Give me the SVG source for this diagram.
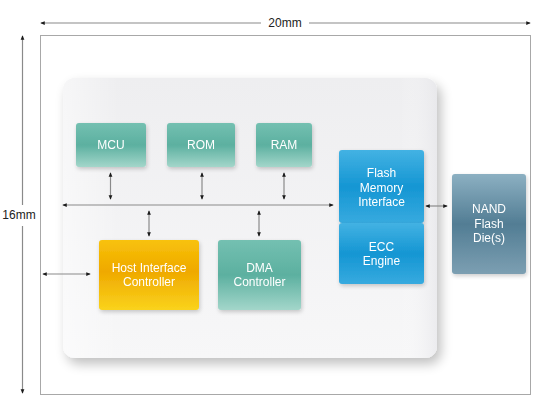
<svg xmlns="http://www.w3.org/2000/svg" width="549" height="411" viewBox="0 0 549 411">
<style>
text{font-family:"Liberation Sans",Arial,sans-serif;font-size:12px;fill:#fff;text-anchor:middle}
.dim{fill:#222;font-size:12px}
.ln{stroke:#8a8a8a;stroke-width:1.2;fill:none;marker-start:url(#ah);marker-end:url(#ah)}
.bx{filter:url(#bs)}
</style>
<defs>
<marker id="ah" viewBox="0 0 6 6" refX="5" refY="3" markerWidth="4.5" markerHeight="4.5" markerUnits="userSpaceOnUse" orient="auto-start-reverse"><path d="M0,0.5 L6,3 L0,5.5 z" fill="#1a1a1a"/></marker>
<linearGradient id="gPanel" x1="0" y1="0" x2="0" y2="1"><stop offset="0" stop-color="#eeeef0"/><stop offset="1" stop-color="#f7f7f8"/></linearGradient>
<linearGradient id="gPanelH" x1="0" y1="0" x2="1" y2="0"><stop offset="0" stop-color="#fff" stop-opacity="0.5"/><stop offset="0.15" stop-color="#fff" stop-opacity="0"/><stop offset="0.9" stop-color="#fff" stop-opacity="0"/><stop offset="1" stop-color="#e4e4e8" stop-opacity="0.6"/></linearGradient>
<linearGradient id="gTeal" x1="0" y1="0" x2="0" y2="1"><stop offset="0" stop-color="#74c0b1"/><stop offset="0.5" stop-color="#5cb0a0"/><stop offset="1" stop-color="#a3d6ca"/></linearGradient>
<linearGradient id="gYel" x1="0" y1="0" x2="0" y2="1"><stop offset="0" stop-color="#f8c20a"/><stop offset="0.45" stop-color="#efa900"/><stop offset="1" stop-color="#fad31c"/></linearGradient>
<linearGradient id="gBlue" x1="0" y1="0" x2="0" y2="1"><stop offset="0" stop-color="#43b2e3"/><stop offset="0.5" stop-color="#1596d3"/><stop offset="1" stop-color="#37aadf"/></linearGradient>
<linearGradient id="gNand" x1="0" y1="0" x2="0" y2="1"><stop offset="0" stop-color="#8cb0c2"/><stop offset="0.5" stop-color="#527d94"/><stop offset="1" stop-color="#7c9fb2"/></linearGradient>
<filter id="ps" x="-10%" y="-10%" width="125%" height="130%"><feGaussianBlur in="SourceAlpha" stdDeviation="6"/><feOffset dx="4" dy="6"/><feComponentTransfer><feFuncA type="linear" slope="0.25"/></feComponentTransfer><feMerge><feMergeNode/><feMergeNode in="SourceGraphic"/></feMerge></filter>
<filter id="bs" x="-20%" y="-20%" width="150%" height="150%"><feGaussianBlur in="SourceAlpha" stdDeviation="2"/><feOffset dx="1" dy="2"/><feComponentTransfer><feFuncA type="linear" slope="0.2"/></feComponentTransfer><feMerge><feMergeNode/><feMergeNode in="SourceGraphic"/></feMerge></filter>
</defs>
<rect width="549" height="411" fill="#fff"/>
<g id="frame">
<rect x="40.5" y="35.5" width="490" height="359" fill="none" stroke="#a8a8a8" stroke-width="1"/>
</g>
<g id="dimensions">
<line class="ln" x1="41" y1="23" x2="261" y2="23" style="marker-end:none"/>
<line class="ln" x1="309" y1="23" x2="530" y2="23" style="marker-start:none"/>
<text class="dim" x="285" y="27">20mm</text>
<line class="ln" x1="22.5" y1="36" x2="22.5" y2="205" style="marker-end:none"/>
<line class="ln" x1="22.5" y1="226" x2="22.5" y2="393" style="marker-start:none"/>
<text class="dim" x="19" y="219">16mm</text>
</g>
<g id="panel">
<rect x="63" y="78" width="374" height="280" rx="12" fill="url(#gPanel)" filter="url(#ps)"/>
<rect x="63" y="78" width="374" height="280" rx="12" fill="url(#gPanelH)"/>
</g>
<g id="connectors">
<line class="ln" x1="63" y1="205" x2="333" y2="205"/>
<line class="ln" x1="110.5" y1="173" x2="110.5" y2="199"/>
<line class="ln" x1="202" y1="173" x2="202" y2="199"/>
<line class="ln" x1="284" y1="173" x2="284" y2="199"/>
<line class="ln" x1="149" y1="211" x2="149" y2="236"/>
<line class="ln" x1="259" y1="211" x2="259" y2="236"/>
<line class="ln" x1="43" y1="274" x2="90" y2="274"/>
<line class="ln" x1="426" y1="206" x2="447" y2="206"/>
</g>
<g id="mcu" class="bx"><rect x="76" y="123" width="70" height="44" rx="3" fill="url(#gTeal)"/><text x="111" y="148.5">MCU</text></g>
<g id="rom" class="bx"><rect x="167" y="123" width="68" height="44" rx="3" fill="url(#gTeal)"/><text x="201" y="148.5">ROM</text></g>
<g id="ram" class="bx"><rect x="256" y="123" width="56" height="44" rx="3" fill="url(#gTeal)"/><text x="284" y="148.5">RAM</text></g>
<g id="host" class="bx"><rect x="99" y="240" width="100" height="70" rx="3" fill="url(#gYel)"/><text x="149" y="272">Host Interface</text><text x="149" y="286">Controller</text></g>
<g id="dma" class="bx"><rect x="218" y="240" width="83" height="70" rx="3" fill="url(#gTeal)"/><text x="259.5" y="272">DMA</text><text x="259.5" y="286">Controller</text></g>
<g id="fmi" class="bx"><rect x="339" y="150" width="85" height="73" rx="3" fill="url(#gBlue)"/><text x="381.5" y="177">Flash</text><text x="381.5" y="191.5">Memory</text><text x="381.5" y="206">Interface</text></g>
<g id="ecc" class="bx"><rect x="339" y="223" width="85" height="61" rx="3" fill="url(#gBlue)"/><text x="381.5" y="251">ECC</text><text x="381.5" y="265">Engine</text></g>
<g id="nand" class="bx"><rect x="452" y="174" width="74" height="100" rx="3" fill="url(#gNand)"/><text x="489" y="213">NAND</text><text x="489" y="228">Flash</text><text x="489" y="242">Die(s)</text></g>
</svg>
